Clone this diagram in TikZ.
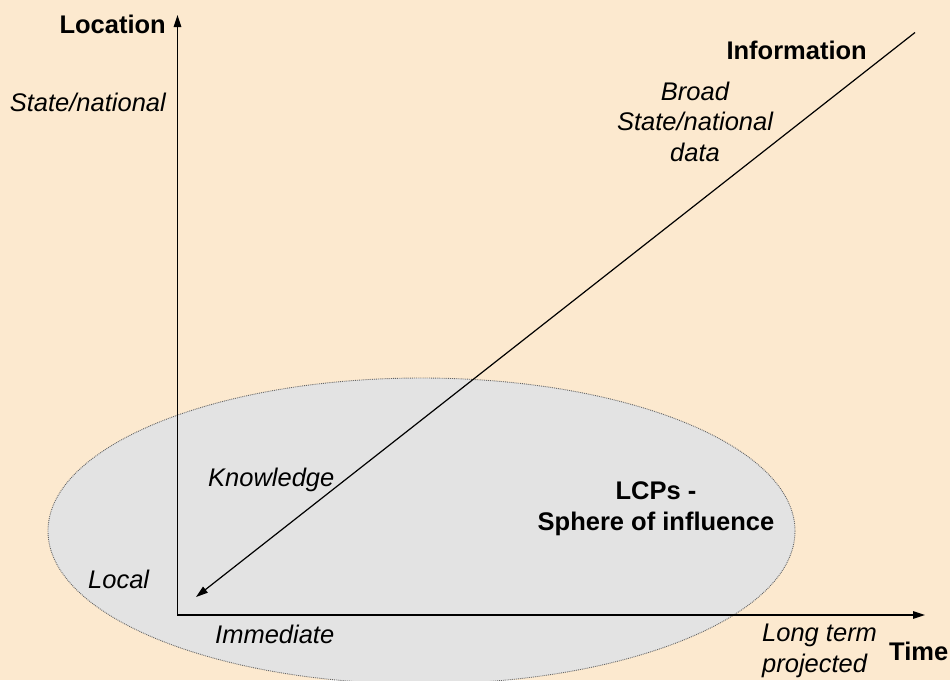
\documentclass[tikz,border=0pt]{standalone}
\usepackage{fontspec}
\setmainfont{Liberation Sans}
\usetikzlibrary{arrows.meta}
\definecolor{bgcream}{HTML}{FCE9CF}
\definecolor{spheregray}{HTML}{E3E3E3}
\begin{document}
\begin{tikzpicture}[x=1pt,y=-1pt,
  axis/.style={line width=1.5pt, line join=miter, {Triangle[length=12pt,width=7.5pt]}-{Triangle[length=12pt,width=7.5pt]}},
  lbl/.style={font=\fontsize{25.5}{30.5}\selectfont\itshape, inner sep=0pt},
  ttl/.style={font=\fontsize{25.5}{30.5}\selectfont\bfseries, inner sep=0pt}]
\fill[bgcream] (0,0) rectangle (950,680);
\useasboundingbox (0,0) rectangle (950,680);
% sphere of influence
\fill[spheregray] (421.5,531) ellipse [x radius=373.5, y radius=153];
\draw[densely dotted, black!60, line width=0.9pt] (421.5,531) ellipse [x radius=373.5, y radius=153];

% axes
\coordinate (origin) at (177.5,615);
\coordinate (ytop) at (177.5,15);
\coordinate (xend) at (925,615);
\draw[axis] (ytop) -- (origin) -- (xend);

% information -> knowledge
\coordinate (infoend) at (915,32.5);
\coordinate (knowtip) at (196,597);
\draw[line width=1.2pt, -{Triangle[length=12pt,width=7.5pt]}] (infoend) -- (knowtip);

% labels (multi-line: base = last line)
\node[ttl, anchor=base east] (location) at (166,33) {Location};
\node[lbl, anchor=base east] (statenat) at (166,111) {State/national};
\node[ttl, anchor=base east] (information) at (867,59.5) {Information};
\node[lbl, align=center, anchor=base] (broad) at (695,161) {Broad\\State/national\\data};
\node[lbl, anchor=base west] (knowledge) at (208,486) {Knowledge};
\node[ttl, align=center, anchor=base] (lcps) at (656,530) {LCPs -\\Sphere of influence};
\node[lbl, anchor=base west] (local) at (88,588) {Local};
\node[lbl, anchor=base west] (immediate) at (215,643) {Immediate};
\node[lbl, align=left, anchor=base west] (longterm) at (762,672) {Long term\\projected};
\node[ttl, anchor=base west] (time) at (889,660) {Time};
\end{tikzpicture}
\end{document}
